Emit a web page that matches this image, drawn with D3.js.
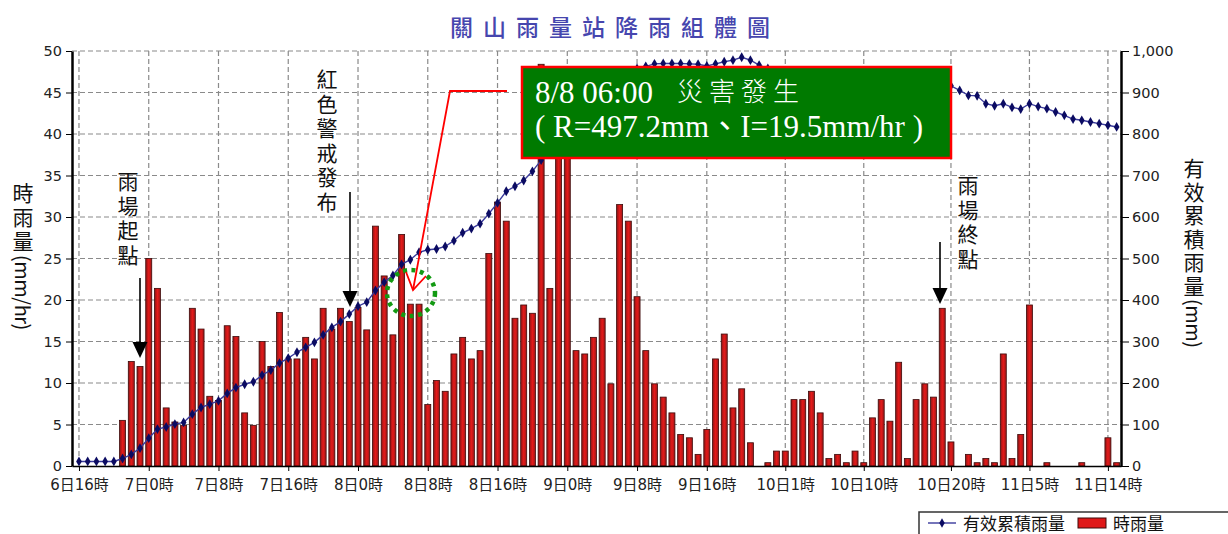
<!DOCTYPE html>
<html>
<head>
<meta charset="utf-8">
<script src="https://cdn.jsdelivr.net/npm/d3@7"></script>
<style>
  body { margin: 0; background: #fff; }
  svg { display: block; }
</style>
</head>
<body>
<svg id="chart" width="1228" height="534"></svg>
<script>
// hourly rainfall (mm/hr), one value per hour from 6日16時
const hourly = [
  0, 0, 0, 0, 0, 5.5, 12.6, 12.0, 25.0, 21.4,
  7.0, 5.3, 4.9, 19.0, 16.5, 8.4, 7.9, 16.9, 15.6, 6.4,
  4.9, 15.0, 12.0, 18.5, 12.9, 12.9, 15.5, 12.9, 19.0, 16.5,
  19.0, 17.4, 19.1, 16.4, 28.9, 22.9, 15.8, 27.9, 19.5, 19.5,
  7.4, 10.3, 9.0, 13.5, 15.5, 12.9, 13.9, 25.6, 31.8, 29.5,
  17.8, 19.4, 18.4, 48.4, 21.4, 46, 44, 13.9, 13.5, 15.5,
  17.8, 9.9, 31.5, 29.5, 20.4, 13.9, 9.9, 8.3, 6.4, 3.8,
  3.4, 1.4, 4.4, 12.9, 15.9, 7.0, 9.3, 2.8, 0, 0.4,
  1.8, 1.8, 8.0, 8.0, 9.0, 6.4, 0.9, 1.4, 0.4, 1.8,
  0.4, 5.8, 8.0, 5.4, 12.5, 0.9, 8.0, 9.9, 8.3, 19.0,
  2.9, 0, 1.4, 0.4, 0.9, 0.4, 13.5, 0.9, 3.8, 19.4,
  0, 0.4, 0, 0, 0, 0.4, 0, 0, 3.4, 0.4
];

// effective accumulated rainfall (mm)
const cumulative = [
  11, 11, 11, 11, 11, 18, 28, 43, 67, 89,
  94, 101, 105, 125, 141, 149, 157, 175, 189, 197,
  203, 219, 231, 248, 260, 274, 286, 298, 316, 334,
  348, 366, 385, 395, 423, 443, 459, 486, 497, 515,
  521, 523, 529, 543, 562, 572, 584, 608, 634, 662,
  674, 688, 710, 737, 757, 800, 842, 853, 864, 877,
  892, 900, 925, 946, 958, 963, 969, 970, 970, 970,
  969, 968, 964, 969, 974, 978, 985, 978, 966, 958,
  952, 946, 946, 946, 947, 945, 938, 931, 924, 918,
  911, 908, 908, 905, 909, 902, 901, 903, 903, 914,
  916, 905, 893, 892, 873, 868, 873, 864, 860, 873,
  866, 861, 853, 845, 836, 833, 829, 825, 821, 817
];

const tickHours = [0, 8, 16, 24, 32, 40, 48, 56, 64, 72, 81, 90, 100, 109, 118];
const tickLabels = ["6日16時", "7日0時", "7日8時", "7日16時", "8日0時", "8日8時", "8日16時",
  "9日0時", "9日8時", "9日16時", "10日1時", "10日10時", "10日20時", "11日5時", "11日14時"];
const leftTicks = [0, 5, 10, 15, 20, 25, 30, 35, 40, 45, 50];
const rightTicks = [0, 100, 200, 300, 400, 500, 600, 700, 800, 900, 1000];

const plotLeft = 72, plotRight = 1121, plotTop = 51, plotBottom = 466;
const svg = d3.select("#chart");

const x = d3.scaleLinear().domain([-0.8, 119.5]).range([plotLeft, plotRight]);
const yL = d3.scaleLinear().domain([0, 50]).range([plotBottom, plotTop]);
const yR = d3.scaleLinear().domain([0, 1000]).range([plotBottom, plotTop]);

const defs = svg.append("defs");
const grad = defs.append("linearGradient").attr("id", "barFill")
  .attr("x1", "0%").attr("x2", "100%").attr("y1", "0%").attr("y2", "0%");
grad.append("stop").attr("offset", "0%").attr("stop-color", "#8a1616");
grad.append("stop").attr("offset", "50%").attr("stop-color", "#e61a1a");
grad.append("stop").attr("offset", "100%").attr("stop-color", "#9c1818");

// title
svg.append("text")
  .attr("x", 450).attr("y", 36)
  .attr("textLength", 320).attr("lengthAdjust", "spacing")
  .style("font-family", "Noto Sans CJK TC")
  .style("font-size", "23px")
  .style("font-weight", "500")
  .attr("fill", "#4646ae")
  .text("關山雨量站降雨組體圖");

// grid
svg.append("g").selectAll("line")
  .data(leftTicks.slice(1))
  .join("line")
  .attr("x1", plotLeft).attr("x2", plotRight)
  .attr("y1", d => yL(d)).attr("y2", d => yL(d))
  .attr("stroke", "#8a8a8a").attr("stroke-width", 1.2)
  .attr("stroke-dasharray", "5 3");

svg.append("g").selectAll("line")
  .data(tickHours)
  .join("line")
  .attr("x1", d => x(d)).attr("x2", d => x(d))
  .attr("y1", plotTop).attr("y2", plotBottom)
  .attr("stroke", "#8a8a8a").attr("stroke-width", 1.2)
  .attr("stroke-dasharray", "5 3");

// bars
svg.append("g").selectAll("rect")
  .data(hourly.map((v, i) => ({ h: i, v })).filter(d => d.v > 0))
  .join("rect")
  .attr("x", d => x(d.h) - 3)
  .attr("width", 6)
  .attr("y", d => yL(d.v))
  .attr("height", d => yL(0) - yL(d.v))
  .attr("fill", "url(#barFill)")
  .attr("stroke", "#3c0a0a")
  .attr("stroke-width", 0.8);

// cumulative line
const cumLine = d3.line()
  .x((d, i) => x(i))
  .y(d => yR(d));

svg.append("path")
  .datum(cumulative)
  .attr("fill", "none")
  .attr("stroke", "#3a3a9c")
  .attr("stroke-width", 1.4)
  .attr("d", cumLine);

svg.append("g").selectAll("path")
  .data(cumulative)
  .join("path")
  .attr("transform", (d, i) => `translate(${x(i)},${yR(d)})`)
  .attr("d", d3.symbol().type(d3.symbolDiamond).size(28))
  .attr("fill", "#0b0b62");

// axes
const tickFont = "DejaVu Sans, Noto Sans CJK TC";

svg.append("g")
  .attr("class", "yAxis")
  .attr("transform", `translate(${plotLeft},0)`)
  .call(d3.axisLeft(yL).tickValues(leftTicks).tickSize(6).tickSizeOuter(0).tickPadding(4))
  .call(g => g.select(".domain").attr("stroke", "#000").attr("stroke-width", 2.5))
  .selectAll("text")
  .style("font-family", tickFont)
  .style("font-size", "14.5px")
  .attr("fill", "#222");

svg.append("g")
  .attr("class", "yAxisR")
  .attr("transform", `translate(${plotRight},0)`)
  .call(d3.axisRight(yR).tickValues(rightTicks).tickFormat(d3.format(",")).tickSize(8).tickSizeOuter(0).tickPadding(3))
  .call(g => g.select(".domain").attr("stroke", "#000").attr("stroke-width", 2.5))
  .selectAll("text")
  .style("font-family", tickFont)
  .style("font-size", "14.5px")
  .attr("fill", "#222");

svg.append("g")
  .attr("class", "xAxis")
  .attr("transform", `translate(0,${plotBottom})`)
  .call(d3.axisBottom(x).tickValues(tickHours).tickFormat((d, i) => tickLabels[i]).tickSize(5).tickSizeOuter(0).tickPadding(8))
  .call(g => g.select(".domain").attr("stroke", "#000").attr("stroke-width", 1.5))
  .selectAll("text")
  .style("font-family", tickFont)
  .style("font-size", "15px")
  .attr("fill", "#222");

// vertical writing helper: CJK part and latin part can have their own spacing
const vtext = (xp, yp, cjk, latin, size, spacing) => {
  const t = svg.append("text")
    .attr("x", xp).attr("y", yp)
    .style("writing-mode", "vertical-rl")
    .style("font-family", "Noto Sans CJK TC")
    .style("font-size", size + "px")
    .attr("fill", "#111");
  t.append("tspan").style("letter-spacing", spacing + "px").text(cjk);
  if (latin) t.append("tspan").style("font-size", (size - 1) + "px").style("letter-spacing", "-0.5px").text(latin);
  return t;
};

vtext(23, 183, "時雨量", "(mm/hr)", 21, 3);
vtext(1194, 158, "有效累積雨量", "(mm)", 21, 2.5);

// annotations
vtext(128, 171, "雨場起點", null, 21, 3.5);
vtext(327, 69, "紅色警戒發布", null, 21, 3.5);
vtext(968, 175, "雨場終點", null, 21, 3.5);

const arrow = (xp, y0, tip) => {
  svg.append("line")
    .attr("x1", xp).attr("x2", xp).attr("y1", y0).attr("y2", tip - 12)
    .attr("stroke", "#000").attr("stroke-width", 1.6);
  svg.append("path")
    .attr("d", `M${xp - 7.5},${tip - 16} L${xp + 7.5},${tip - 16} L${xp},${tip} Z`)
    .attr("fill", "#000");
};
arrow(140, 278, 358);
arrow(350, 192, 307);
arrow(940, 242, 304);

// green dotted circle
svg.append("ellipse")
  .attr("cx", 411).attr("cy", 293).attr("rx", 24).attr("ry", 23)
  .attr("fill", "none")
  .attr("stroke", "#139a13")
  .attr("stroke-width", 4.5)
  .attr("stroke-dasharray", "4 4.5");

// red callout
svg.append("path")
  .attr("d", "M507,91 L450,91 L413,290")
  .attr("fill", "none").attr("stroke", "#ff0000").attr("stroke-width", 1.8);
svg.append("path")
  .attr("d", "M406,272 L413,290 L426,276")
  .attr("fill", "none").attr("stroke", "#ff0000").attr("stroke-width", 1.8);

svg.append("rect")
  .attr("x", 522).attr("y", 67).attr("width", 429).attr("height", 91)
  .attr("fill", "#007a00")
  .attr("stroke", "#ff0000").attr("stroke-width", 2.5);

svg.append("text")
  .attr("x", 535).attr("y", 103)
  .style("font-family", "Liberation Serif")
  .style("font-size", "31px")
  .attr("fill", "#fff")
  .text("8/8 06:00");

svg.append("text")
  .attr("x", 677).attr("y", 101)
  .style("font-family", "Noto Sans CJK TC")
  .style("font-size", "26px")
  .style("font-weight", "300")
  .style("letter-spacing", "6px")
  .attr("fill", "#fff")
  .text("災害發生");

svg.append("text")
  .attr("x", 535).attr("y", 137)
  .style("font-family", "Liberation Serif, Noto Sans CJK TC")
  .style("font-size", "31px")
  .attr("fill", "#fff")
  .text("( R=497.2mm、I=19.5mm/hr )");

// legend
const legend = svg.append("g");
legend.append("rect")
  .attr("x", 919).attr("y", 512).attr("width", 330).attr("height", 40)
  .attr("fill", "#fff").attr("stroke", "#333").attr("stroke-width", 1.5);
legend.append("line")
  .attr("x1", 928).attr("x2", 956).attr("y1", 523).attr("y2", 523)
  .attr("stroke", "#3a3a9c").attr("stroke-width", 1.4);
legend.append("path")
  .attr("transform", "translate(942,523)")
  .attr("d", d3.symbol().type(d3.symbolDiamond).size(26))
  .attr("fill", "#0b0b62");
legend.append("text")
  .attr("x", 963).attr("y", 530)
  .style("font-family", "Noto Sans CJK TC")
  .style("font-size", "17px")
  .attr("fill", "#111")
  .text("有效累積雨量");
legend.append("rect")
  .attr("x", 1078).attr("y", 518).attr("width", 28).attr("height", 10)
  .attr("fill", "#e01818").attr("stroke", "#3c0a0a").attr("stroke-width", 1);
legend.append("text")
  .attr("x", 1113).attr("y", 530)
  .style("font-family", "Noto Sans CJK TC")
  .style("font-size", "17px")
  .attr("fill", "#111")
  .text("時雨量");
</script>
</body>
</html>
